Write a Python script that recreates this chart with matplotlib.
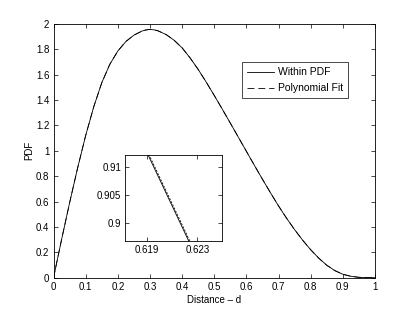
import matplotlib
matplotlib.use("Agg")
import matplotlib.pyplot as plt

plt.rcParams['font.family'] = ['Liberation Sans', 'DejaVu Sans']
plt.rcParams['font.size'] = 7
plt.rcParams['lines.scale_dashes'] = False

# curve
dist = [0.000, 0.025, 0.050, 0.075, 0.100, 0.125, 0.150, 0.175, 0.200, 0.225,
        0.250, 0.275, 0.2875, 0.300, 0.3125, 0.325, 0.350, 0.375, 0.400, 0.425,
        0.450, 0.475, 0.500, 0.525, 0.550, 0.575, 0.600, 0.625, 0.650, 0.675,
        0.700, 0.725, 0.750, 0.775, 0.800, 0.825, 0.850, 0.875, 0.900, 0.925,
        0.950, 0.975, 1.000]
pdf = [0.000, 0.300, 0.590, 0.865, 1.120, 1.345, 1.535, 1.680, 1.785, 1.860,
       1.910, 1.942, 1.951, 1.955, 1.952, 1.944, 1.915, 1.870, 1.810, 1.730,
       1.640, 1.540, 1.435, 1.327, 1.217, 1.106, 0.995, 0.884, 0.775, 0.668,
       0.565, 0.468, 0.378, 0.295, 0.220, 0.154, 0.098, 0.056, 0.027, 0.011,
       0.003, 0.0003, 0.0]
pdf_fit = pdf

# zoomed part (inset)
inset_dist = [0.6170, 0.6250]
inset_pdf = [0.9222, 0.8838]
inset_fit = [0.9226, 0.8842]

xticks = [0, 0.1, 0.2, 0.3, 0.4, 0.5, 0.6, 0.7, 0.8, 0.9, 1]
xlabels = ['0', '0.1', '0.2', '0.3', '0.4', '0.5', '0.6', '0.7', '0.8', '0.9', '1']
yticks = [0, 0.2, 0.4, 0.6, 0.8, 1, 1.2, 1.4, 1.6, 1.8, 2]
ylabels = ['0', '0.2', '0.4', '0.6', '0.8', '1', '1.2', '1.4', '1.6', '1.8', '2']

LW = 0.6
DASH = (5, 2.8)


def matlab_axes(ax):
    for s in ax.spines.values():
        s.set_linewidth(0.6)
    ax.tick_params(direction='in', top=True, right=True, length=3, width=0.5,
                   labelsize=7, pad=3)


fig = plt.figure(figsize=(4.15, 3.13), dpi=100)
ax = fig.add_axes([0.129, 0.1128, 0.7746, 0.8114])
ax.plot(dist, pdf, 'k-', lw=LW, label='Within PDF')
ax.plot(dist, pdf_fit, 'k--', lw=LW, dashes=DASH, label='Polynomial Fit')
ax.set_xlim(0, 1)
ax.set_ylim(0, 2)
ax.set_xticks(xticks)
ax.set_xticklabels(xlabels)
ax.set_yticks(yticks)
ax.set_yticklabels(ylabels)
ax.set_xlabel('Distance – d', labelpad=2)
ax.set_ylabel('PDF', labelpad=1)
matlab_axes(ax)

leg = ax.legend(loc='upper left', bbox_to_anchor=(0.582, 0.801),
                bbox_transform=fig.transFigure, borderaxespad=0,
                fancybox=False, edgecolor='black', framealpha=1,
                handlelength=2.65, handletextpad=0.35, borderpad=0.5,
                labelspacing=0.55, fontsize=7.5)
leg.get_frame().set_linewidth(0.5)

ins = fig.add_axes([0.302, 0.231, 0.233, 0.275])
ins.plot(inset_dist, inset_pdf, 'k-', lw=LW)
ins.plot(inset_dist, inset_fit, 'k--', lw=LW, dashes=(1.5, 1))
ins.set_xlim(0.61726, 0.62497)
ins.set_ylim(0.89675, 0.91231)
ins.set_xticks([0.619, 0.623])
ins.set_xticklabels(['0.619', '0.623'])
ins.set_yticks([0.9, 0.905, 0.91])
ins.set_yticklabels(['0.9', '0.905', '0.91'])
matlab_axes(ins)

fig.savefig('out.png', dpi=100)
